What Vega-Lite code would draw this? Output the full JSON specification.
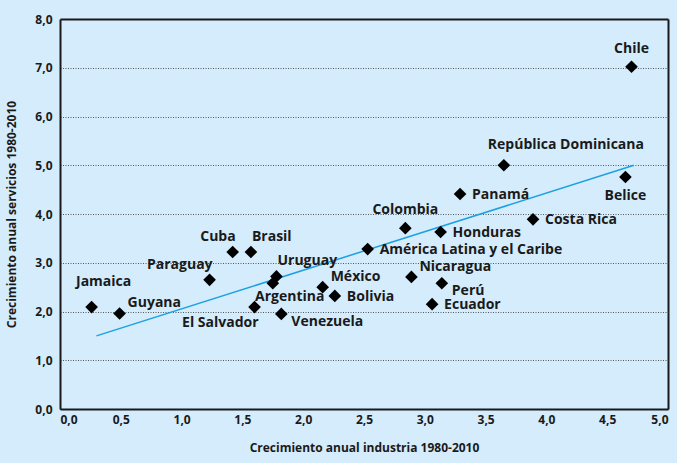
{
  "$schema": "https://vega.github.io/schema/vega-lite/v6.json",
  "autosize": {"type": "none"},
  "width": 608,
  "height": 390,
  "padding": {"left": 60, "top": 19, "right": 9, "bottom": 54},
  "background": "#d4ecfb",
  "view": {"fill": "#d4ecfb", "stroke": null},
  "config": {
    "font": "Open Sans",
    "axis": {
      "labelFont": "Open Sans", "labelFontWeight": 700, "labelFontSize": 12, "labelColor": "#1a1a1a",
      "titleFont": "Open Sans", "titleFontWeight": 700, "titleFontSize": 12, "titleColor": "#1a1a1a",
      "domain": true, "domainColor": "#1a1a1a", "domainWidth": 2, "ticks": false
    },
    "text": {"font": "Open Sans", "fontWeight": 700, "fontSize": 14, "color": "#1a1a1a", "baseline": "middle"}
  },
  "datasets": {
    "paises": [
      {"pais": "Chile", "industria": 4.70, "servicios": 7.02},
      {"pais": "República Dominicana", "industria": 3.65, "servicios": 5.00},
      {"pais": "Belice", "industria": 4.65, "servicios": 4.76},
      {"pais": "Panamá", "industria": 3.29, "servicios": 4.41},
      {"pais": "Costa Rica", "industria": 3.89, "servicios": 3.89},
      {"pais": "Colombia", "industria": 2.84, "servicios": 3.71},
      {"pais": "Honduras", "industria": 3.13, "servicios": 3.63},
      {"pais": "América Latina y el Caribe", "industria": 2.53, "servicios": 3.28},
      {"pais": "Cuba", "industria": 1.42, "servicios": 3.22},
      {"pais": "Brasil", "industria": 1.57, "servicios": 3.22},
      {"pais": "Paraguay", "industria": 1.23, "servicios": 2.65},
      {"pais": "Uruguay", "industria": 1.78, "servicios": 2.72},
      {"pais": "Argentina", "industria": 1.75, "servicios": 2.58},
      {"pais": "Nicaragua", "industria": 2.89, "servicios": 2.71},
      {"pais": "México", "industria": 2.16, "servicios": 2.50},
      {"pais": "Perú", "industria": 3.14, "servicios": 2.58},
      {"pais": "Bolivia", "industria": 2.26, "servicios": 2.32},
      {"pais": "Jamaica", "industria": 0.26, "servicios": 2.09},
      {"pais": "Guyana", "industria": 0.49, "servicios": 1.96},
      {"pais": "El Salvador", "industria": 1.60, "servicios": 2.09},
      {"pais": "Venezuela", "industria": 1.82, "servicios": 1.95},
      {"pais": "Ecuador", "industria": 3.06, "servicios": 2.15}
    ],
    "tendencia": [
      {"industria": 0.30, "servicios": 1.50},
      {"industria": 4.72, "servicios": 5.00}
    ]
  },
  "encoding": {
    "x": {
      "field": "industria", "type": "quantitative",
      "scale": {"domain": [0, 5], "nice": false, "zero": true},
      "axis": {
        "title": "Crecimiento anual industria 1980-2010",
        "values": [0, 0.5, 1, 1.5, 2, 2.5, 3, 3.5, 4, 4.5, 5],
        "labelExpr": "replace(format(datum.value, '.1f'), '.', ',')",
        "grid": true, "gridColor": "#1a1a1a", "gridWidth": 2,
        "gridOpacity": {"condition": {"test": "datum.value === 5", "value": 1}, "value": 0},
        "labelPadding": 5, "titlePadding": 17
      }
    },
    "y": {
      "field": "servicios", "type": "quantitative",
      "scale": {"domain": [0, 8], "nice": false},
      "axis": {
        "title": "Crecimiento anual servicios 1980-2010",
        "values": [0, 1, 2, 3, 4, 5, 6, 7, 8],
        "labelExpr": "replace(format(datum.value, '.1f'), '.', ',')",
        "grid": true,
        "gridColor": {"condition": {"test": "datum.value === 8", "value": "#1a1a1a"}, "value": "#333333"},
        "gridDash": {"condition": {"test": "datum.value === 8", "value": []}, "value": [1, 1.5]},
        "gridWidth": {"condition": {"test": "datum.value === 8", "value": 2}, "value": 0.8},
        "labelPadding": 8, "titlePadding": 16
      }
    }
  },
  "layer": [
    {
      "data": {"name": "tendencia"},
      "mark": {"type": "line", "color": "#1ba1e2", "strokeWidth": 1.5}
    },
    {
      "data": {"name": "paises"},
      "mark": {"type": "point", "shape": "diamond", "filled": true, "color": "#000000", "size": 160, "opacity": 1}
    },
    {
      "data": {"name": "paises"},
      "transform": [{"filter": "indexof(['Chile','Colombia'], datum.pais) >= 0"}],
      "mark": {"type": "text", "align": "center", "dy": -18},
      "encoding": {"text": {"field": "pais"}}
    },
    {
      "data": {"name": "paises"},
      "transform": [{"filter": "datum.pais === 'Belice'"}],
      "mark": {"type": "text", "align": "center", "dy": 19},
      "encoding": {"text": {"field": "pais"}}
    },
    {
      "data": {"name": "paises"},
      "transform": [{"filter": "indexof(['Panamá','Costa Rica','Honduras','América Latina y el Caribe','Bolivia','Ecuador'], datum.pais) >= 0"}],
      "mark": {"type": "text", "align": "left", "dx": 12, "dy": 1},
      "encoding": {"text": {"field": "pais"}}
    },
    {
      "data": {"name": "paises"},
      "transform": [{"filter": "datum.pais === 'República Dominicana'"}],
      "mark": {"type": "text", "align": "left", "dx": -16, "dy": -20},
      "encoding": {"text": {"field": "pais"}}
    },
    {
      "data": {"name": "paises"},
      "transform": [{"filter": "indexof(['Brasil','Uruguay'], datum.pais) >= 0"}],
      "mark": {"type": "text", "align": "left", "dx": 1, "dy": -15},
      "encoding": {"text": {"field": "pais"}}
    },
    {
      "data": {"name": "paises"},
      "transform": [{"filter": "indexof(['Cuba','Paraguay'], datum.pais) >= 0"}],
      "mark": {"type": "text", "align": "right", "dx": 3, "dy": -15},
      "encoding": {"text": {"field": "pais"}}
    },
    {
      "data": {"name": "paises"},
      "transform": [{"filter": "datum.pais === 'Jamaica'"}],
      "mark": {"type": "text", "align": "center", "dx": 12, "dy": -25},
      "encoding": {"text": {"field": "pais"}}
    },
    {
      "data": {"name": "paises"},
      "transform": [{"filter": "indexof(['Guyana','México','Nicaragua'], datum.pais) >= 0"}],
      "mark": {"type": "text", "align": "left", "dx": 8, "dy": -10},
      "encoding": {"text": {"field": "pais"}}
    },
    {
      "data": {"name": "paises"},
      "transform": [{"filter": "datum.pais === 'El Salvador'"}],
      "mark": {"type": "text", "align": "right", "dx": 4, "dy": 16},
      "encoding": {"text": {"field": "pais"}}
    },
    {
      "data": {"name": "paises"},
      "transform": [{"filter": "datum.pais === 'Argentina'"}],
      "mark": {"type": "text", "align": "center", "dx": 17, "dy": 14},
      "encoding": {"text": {"field": "pais"}}
    },
    {
      "data": {"name": "paises"},
      "transform": [{"filter": "indexof(['Venezuela','Perú'], datum.pais) >= 0"}],
      "mark": {"type": "text", "align": "left", "dx": 10, "dy": 8},
      "encoding": {"text": {"field": "pais"}}
    }
  ]
}
